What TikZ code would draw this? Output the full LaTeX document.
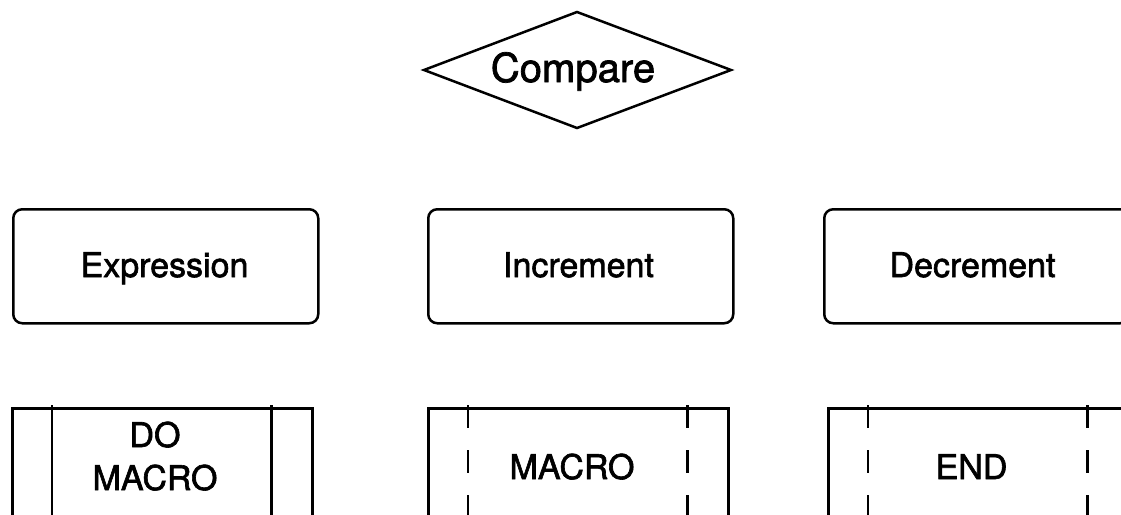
\documentclass[tikz,border=0pt]{standalone}
\usepackage{fontspec}
\setmainfont{TeX Gyre Heros}[RawFeature={embolden=1.8}]
\begin{document}
\begin{tikzpicture}[x=1pt,y=-1pt,line width=2.5pt,line join=miter,
  boxtext/.style={font=\fontsize{34}{41}\selectfont,anchor=base,inner sep=0pt},
  bigtext/.style={font=\fontsize{40}{48}\selectfont,anchor=base,inner sep=0pt},
  roundbox/.style={draw,rounded corners=9pt,minimum width=305pt,minimum height=114pt,inner sep=0pt,anchor=north west},
  macrobox/.style={draw,minimum width=300pt,minimum height=114pt,inner sep=0pt,anchor=north west},
  sidebar/.style={line cap=butt},
  dashbar/.style={line cap=butt,dash pattern=on 23pt off 22pt}]
\clip (0,0) rectangle (1121,514);
\useasboundingbox (0,0) rectangle (1121,514);

% decision
\coordinate (cmp) at (577,70);
\draw ([xshift=-153pt]cmp) -- ([yshift=-58pt]cmp) -- ([xshift=154pt]cmp)
      -- ([yshift=58pt]cmp) -- cycle;
\node[bigtext] (cmptext) at (573,82) {Compare};

% operation boxes
\node[roundbox] (expr) at (12,208) {};
\node[boxtext] (exprtext) at (164.5,277) {Expression};
\node[roundbox] (inc) at (427,208) {};
\node[boxtext] (inctext) at (578.5,277) {Increment};
\node[roundbox] (dec) at (823,208) {};
\node[boxtext] (dectext) at (972.5,277) {Decrement};

% macro boxes
\node[macrobox] (domacro) at (11,407) {};
\draw[sidebar] ([xshift=41pt,yshift=2pt]domacro.north west) -- ([xshift=41pt]domacro.south west);
\draw[sidebar] ([xshift=-42pt,yshift=2pt]domacro.north east) -- ([xshift=-42pt]domacro.south east);
\node[boxtext] (dotext) at (155,447) {DO};
\node[boxtext] (domacrotext) at (155,490) {MACRO};

\node[macrobox] (macro) at (427,407) {};
\draw[dashbar] ([xshift=41pt,yshift=2pt]macro.north west) -- ([xshift=41pt]macro.south west);
\draw[dashbar] ([xshift=-42pt,yshift=2pt]macro.north east) -- ([xshift=-42pt]macro.south east);
\node[boxtext] (macrotext) at (572,479) {MACRO};

\node[macrobox] (endbox) at (827,407) {};
\draw[dashbar] ([xshift=41pt,yshift=2pt]endbox.north west) -- ([xshift=41pt]endbox.south west);
\draw[dashbar] ([xshift=-42pt,yshift=2pt]endbox.north east) -- ([xshift=-42pt]endbox.south east);
\node[boxtext] (endtext) at (971.5,479) {END};
\end{tikzpicture}
\end{document}
